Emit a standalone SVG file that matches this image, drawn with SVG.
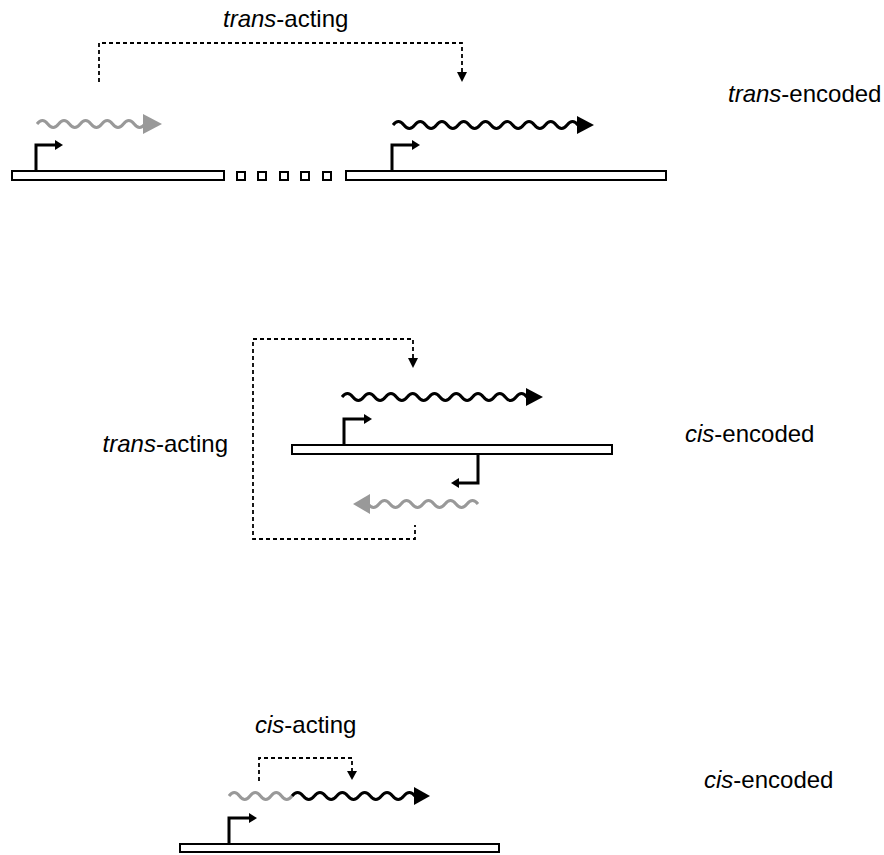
<svg xmlns="http://www.w3.org/2000/svg" width="884" height="855" viewBox="0 0 884 855">
<style>
.bar{fill:#fff;stroke:#000;stroke-width:2}
.prom{fill:none;stroke:#000;stroke-width:3}
.ah{fill:#000}
.wb{fill:none;stroke:#000;stroke-width:3}
.wg{fill:none;stroke:#999;stroke-width:3}
.ag{fill:#999}
.dash{fill:none;stroke:#000;stroke-width:1.8;stroke-dasharray:4 3}
text{font-family:"Liberation Sans",Arial,sans-serif;font-size:24px;fill:#000}
.it{font-style:italic}
</style>
<rect width="884" height="855" fill="#fff"/>
<g id="top-gene1">
<rect class="bar" x="12" y="171" width="212" height="9"/>
<path class="prom" d="M36,170 V145 H56"/>
<polygon class="ah" points="55,140 63,145 55,150"/>
</g>
<g id="top-gap">
<rect class="bar" x="237" y="172" width="8" height="8"/>
<rect class="bar" x="258" y="172" width="8" height="8"/>
<rect class="bar" x="280" y="172" width="8" height="8"/>
<rect class="bar" x="301" y="172" width="8" height="8"/>
<rect class="bar" x="323" y="172" width="8" height="8"/>
</g>
<g id="top-rna-gray">
<path class="wg" d="M37,124 q5.4,-7 10.8,0 t10.8,0 t10.8,0 t10.8,0 t10.8,0 t10.8,0 t10.8,0 t10.8,0 t10.8,0 t10.8,0"/>
<polygon class="ag" points="143,114 162,124 143,134"/>
</g>
<g id="top-gene2">
<rect class="bar" x="346" y="171" width="320" height="9"/>
<path class="prom" d="M392,170 V145 H413"/>
<polygon class="ah" points="412,140 420,145 412,150"/>
</g>
<g id="top-rna-black">
<path class="wb" d="M393,125 q5.44,-7 10.88,0 t10.88,0 t10.88,0 t10.88,0 t10.88,0 t10.88,0 t10.88,0 t10.88,0 t10.88,0 t10.88,0 t10.88,0 t10.88,0 t10.88,0 t10.88,0 t10.88,0 t10.88,0 t10.88,0"/>
<polygon class="ah" points="577,116 594,125 577,134"/>
</g>
<g id="mid-gene">
<rect class="bar" x="292" y="445" width="320" height="9"/>
<path class="prom" d="M344,444 V419 H365"/>
<polygon class="ah" points="364,414 372,419 364,424"/>
<path class="prom" d="M478,455 V483 H458"/>
<polygon class="ah" points="459,478 451,483 459,488"/>
</g>
<g id="mid-rna-black">
<path class="wb" d="M342,397 q5.44,-7 10.88,0 t10.88,0 t10.88,0 t10.88,0 t10.88,0 t10.88,0 t10.88,0 t10.88,0 t10.88,0 t10.88,0 t10.88,0 t10.88,0 t10.88,0 t10.88,0 t10.88,0 t10.88,0 t10.88,0"/>
<polygon class="ah" points="526,388 543,397 526,406"/>
</g>
<g id="mid-rna-gray">
<path class="wg" d="M478,504 q-5.5,-7 -11,0 t-11,0 t-11,0 t-11,0 t-11,0 t-11,0 t-11,0 t-11,0 t-11,0 t-11,0"/>
<polygon class="ag" points="370,494 353,504 370,514"/>
</g>
<g id="bot-gene">
<rect class="bar" x="180" y="844" width="319" height="8"/>
<path class="prom" d="M229,843 V818 H250"/>
<polygon class="ah" points="249,813 257,818 249,823"/>
</g>
<g id="bot-rna">
<path class="wg" d="M229,796 q5.25,-7 10.5,0 t10.5,0 t10.5,0 t10.5,0 t10.5,0 t10.5,0"/>
<path class="wb" d="M292,796 q5.59,-7 11.18,0 t11.18,0 t11.18,0 t11.18,0 t11.18,0 t11.18,0 t11.18,0 t11.18,0 t11.18,0 t11.18,0 t11.18,0"/>
<polygon class="ah" points="414,787 430,796 414,805"/>
</g>
<g id="connectors">
<path class="dash" d="M99,82 V43 H462 V73"/>
<polygon class="ah" points="457,72 467,72 462,82"/>
<path class="dash" d="M413,358 V339 H253 V539 H415 V525"/>
<polygon class="ah" points="408,358 418,358 413,368"/>
<path class="dash" d="M259,781 V758 H352 V771"/>
<polygon class="ah" points="347,771 357,771 352,780"/>
</g>
<g id="labels">
<text x="223" y="27"><tspan class="it">trans</tspan>-acting</text>
<text x="728" y="102"><tspan class="it">trans</tspan>-encoded</text>
<text x="228" y="452" text-anchor="end"><tspan class="it">trans</tspan>-acting</text>
<text x="685" y="442"><tspan class="it">cis</tspan>-encoded</text>
<text x="255" y="733"><tspan class="it">cis</tspan>-acting</text>
<text x="704" y="788"><tspan class="it">cis</tspan>-encoded</text>
</g>
</svg>
